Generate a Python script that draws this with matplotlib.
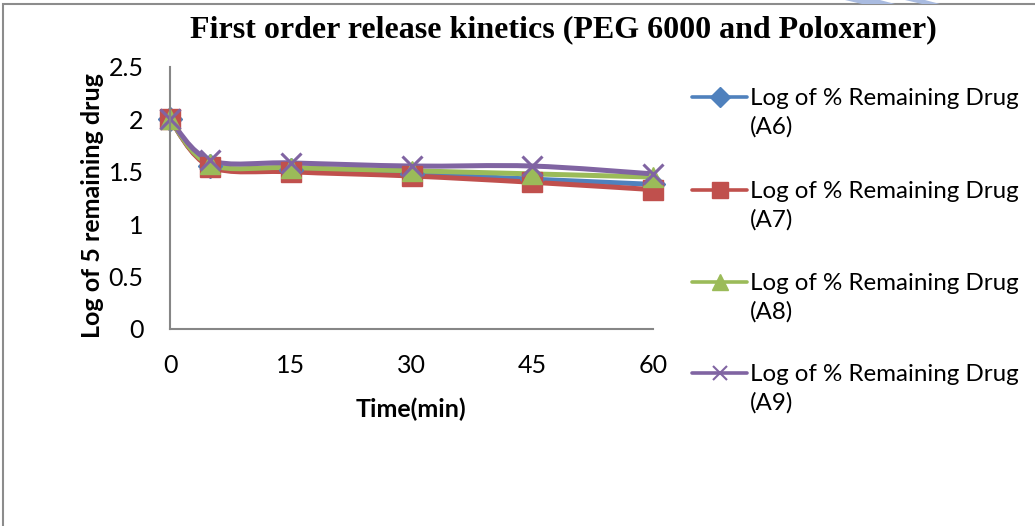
import numpy as np
import matplotlib
matplotlib.use('Agg')
import matplotlib.pyplot as plt
from matplotlib.path import Path
from matplotlib.patches import PathPatch, Rectangle, Polygon
from matplotlib.lines import Line2D

# log10 of % drug remaining vs. time, PEG 6000 / Poloxamer batches
time_min = [0, 5, 15, 30, 45, 60]
log_rem_a6 = [2.00, 1.56, 1.52, 1.48, 1.43, 1.38]
log_rem_a7 = [2.00, 1.55, 1.50, 1.46, 1.40, 1.33]
log_rem_a8 = [2.00, 1.57, 1.54, 1.51, 1.48, 1.45]
log_rem_a9 = [2.00, 1.61, 1.585, 1.555, 1.555, 1.48]

series_names = ["A6", "A7", "A8", "A9"]
colors = ["#4F81BD", "#C0504D", "#9BBB59", "#8064A2"]
markers = ["D", "s", "^", "x"]

W, H = 1035, 526
SANS = ["Lato", "DejaVu Sans"]


def smooth_path(x, y):
    """Excel-style smoothed line: cubic Bezier segments (Catmull-Rom tangents)."""
    pts = np.column_stack([x, y]).astype(float)
    n = len(pts)
    verts = [pts[0]]
    codes = [Path.MOVETO]
    for i in range(n - 1):
        p0 = pts[max(i - 1, 0)]
        p1 = pts[i]
        p2 = pts[i + 1]
        p3 = pts[min(i + 2, n - 1)]
        c1 = p1 + (p2 - p0) / 6.0
        c2 = p2 - (p3 - p1) / 6.0
        verts += [c1, c2, p2]
        codes += [Path.CURVE4] * 3
    return Path(verts, codes)


fig = plt.figure(figsize=(W / 100, H / 100), dpi=100)

# outer chart frame (only top and left edges fall inside the image)
fig.add_artist(Rectangle((3 / W, -0.1), 1.2, 1 - 4 / H + 0.1,
                         transform=fig.transFigure, fill=False,
                         edgecolor="#8c8c8c", linewidth=1.5))
# faint blue shapes peeking in at the top edge
for xs in ([845, 862, 895, 880], [905, 922, 940, 925]):
    fig.add_artist(Polygon([(xs[0] / W, 1), (xs[1] / W, 1 - 4 / H),
                            (xs[2] / W, 1 - 4 / H), (xs[3] / W, 1)],
                           closed=True, transform=fig.transFigure,
                           facecolor="#a9bbe0", edgecolor="none"))

ax = fig.add_axes([170 / W, 1 - 329 / H, (653 - 170) / W, (329 - 67) / H])

all_y = [log_rem_a6, log_rem_a7, log_rem_a8, log_rem_a9]
for yv, c, m in zip(all_y, colors, markers):
    ax.add_patch(PathPatch(smooth_path(time_min, yv), facecolor="none",
                           edgecolor=c, linewidth=3.6, capstyle="round",
                           joinstyle="round", clip_on=False))
    if m == "x":
        ax.plot(time_min, yv, linestyle="none", marker=m, markersize=15,
                markeredgewidth=2.2, color=c, clip_on=False)
    else:
        ax.plot(time_min, yv, linestyle="none", marker=m,
                markersize=15 if m != "D" else 12, color=c,
                markeredgecolor=c, clip_on=False)

ax.set_xlim(0, 60)
ax.set_ylim(0, 2.5)
ax.set_xticks([0, 15, 30, 45, 60])
ax.set_yticks([0, 0.5, 1, 1.5, 2, 2.5])
ax.set_yticklabels(["0", "0.5", "1", "1.5", "2", "2.5"])
ax.tick_params(length=0, labelsize=18)
ax.tick_params(axis="x", pad=18)
ax.tick_params(axis="y", pad=19)
for lab in ax.get_xticklabels() + ax.get_yticklabels():
    lab.set_family(SANS)
for s in ("top", "right"):
    ax.spines[s].set_visible(False)
for s in ("left", "bottom"):
    ax.spines[s].set_color("#868686")
    ax.spines[s].set_linewidth(1.5)

ax.set_xlabel("Time(min)", fontsize=18, fontweight="bold", family=SANS)
ax.set_ylabel("Log of 5 remaining drug", fontsize=18, fontweight="bold",
              family=SANS)
ax.xaxis.set_label_coords(0.499, -0.26)
ax.yaxis.set_label_coords(-0.137, 0.473)

fig.text(563 / W, 1 - 30 / H,
         "First order release kinetics (PEG 6000 and Poloxamer)",
         ha="center", va="center", fontsize=23, fontweight="bold",
         family=["Liberation Serif", "DejaVu Serif"])

# legend, drawn as Excel lays it out (handle next to the first text line)
leg_y = [97, 190, 282, 373]
for name, c, m, yp in zip(series_names, colors, markers, leg_y):
    yf = 1 - yp / H
    fig.add_artist(Line2D([692 / W, 747 / W], [yf, yf], color=c,
                          linewidth=2.6, solid_capstyle="round",
                          transform=fig.transFigure))
    fig.add_artist(Line2D([720 / W], [yf], color=c, marker=m,
                          markersize=12 if m in "s^" else 10,
                          markeredgewidth=1.5 if m == "x" else 1,
                          linestyle="none", transform=fig.transFigure))
    fig.text(750 / W, yf + 9 / H, f"Log of % Remaining Drug\n({name})",
             ha="left", va="top", fontsize=17.4, family=SANS, linespacing=1.42)

fig.savefig("out.png", dpi=100)
